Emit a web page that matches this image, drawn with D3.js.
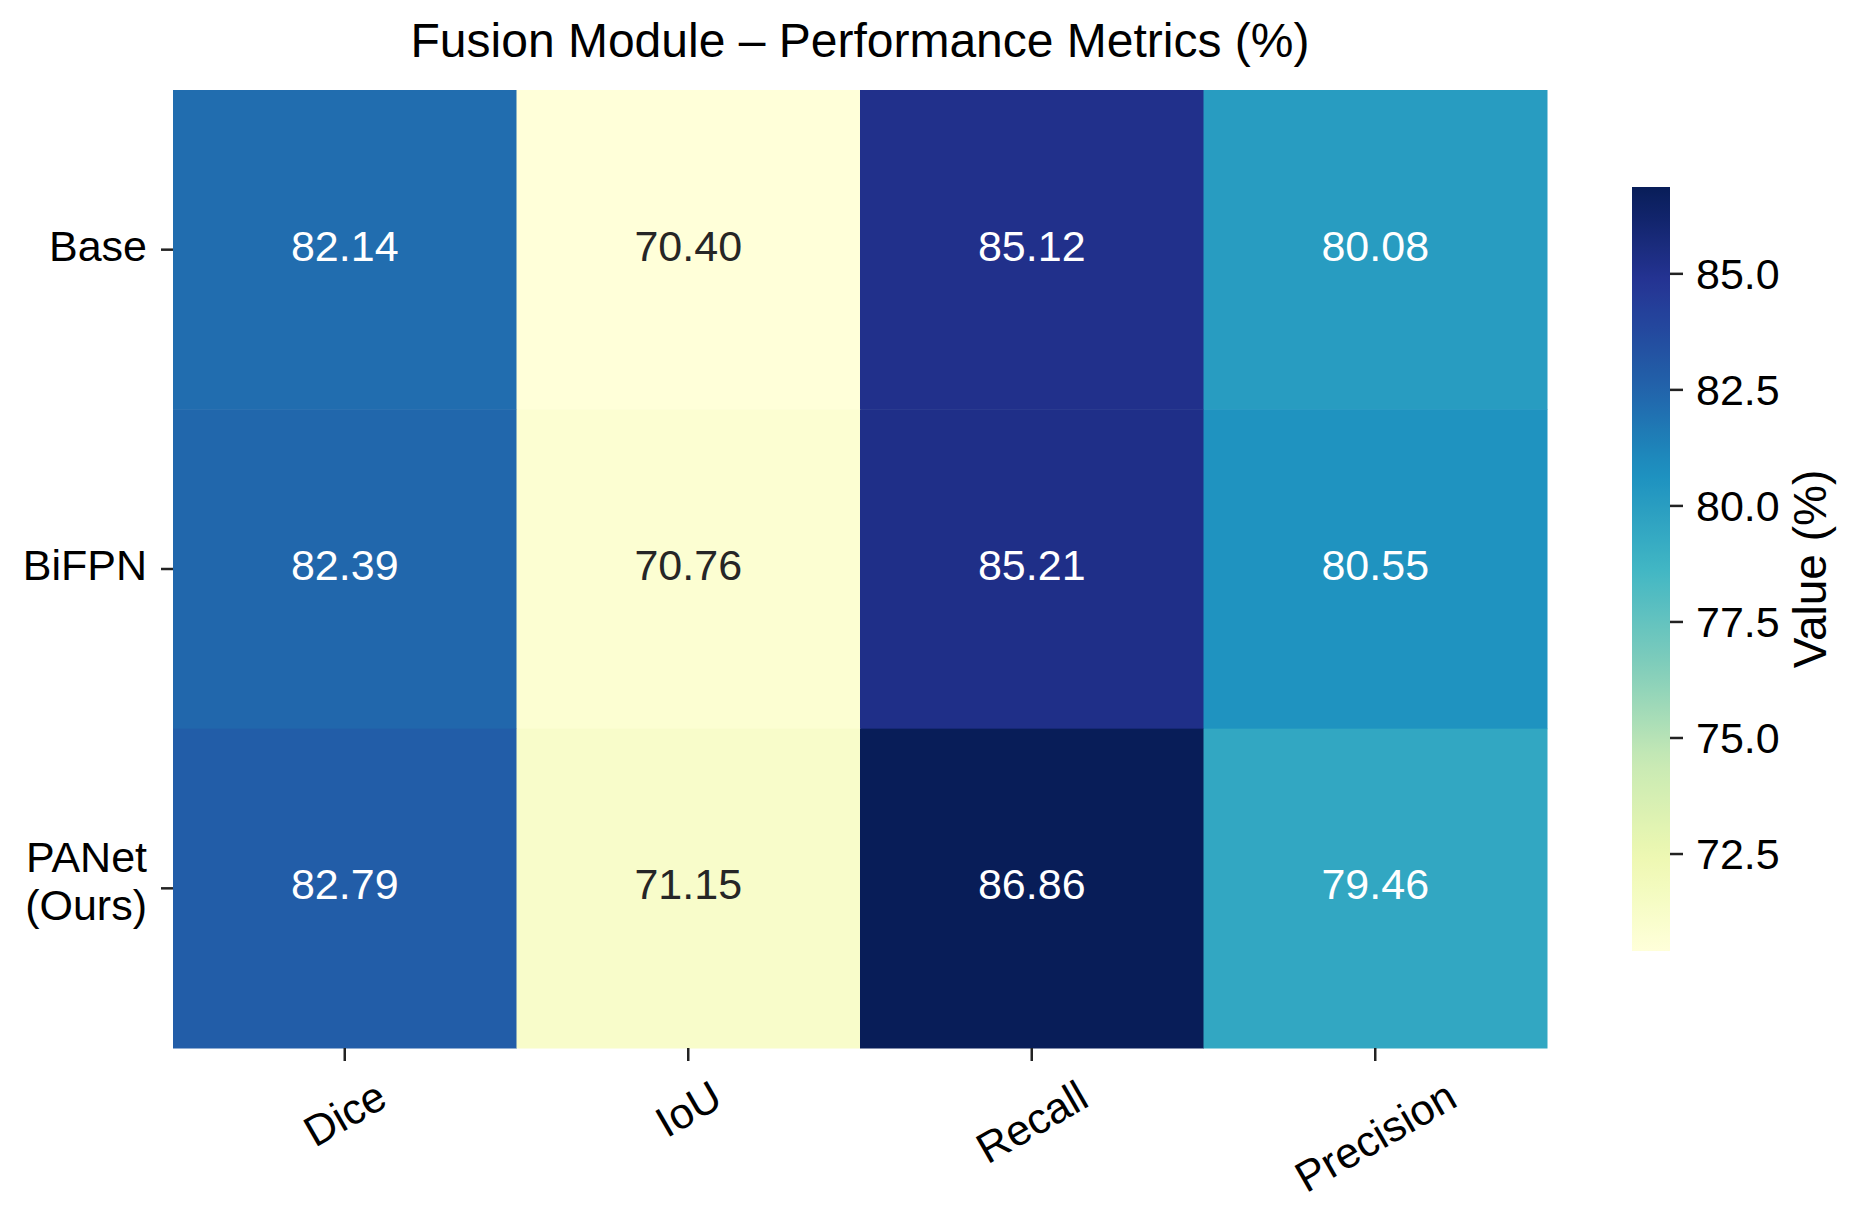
<!DOCTYPE html>
<html>
<head>
<meta charset="utf-8">
<script src="https://cdn.jsdelivr.net/npm/d3@7"></script>
<style>
  html, body { margin: 0; padding: 0; background: #ffffff; }
  svg { display: block; }
  text { font-family: "Liberation Sans", Arial, Helvetica, sans-serif; }
</style>
</head>
<body>
<svg id="chart" width="1864" height="1212"></svg>
<script>
// ---- data ----
const models = ["Base", "BiFPN", "PANet\n(Ours)"];
const metrics = ["Dice", "IoU", "Recall", "Precision"];
const diceValues = [82.14, 82.39, 82.79];
const iouValues = [70.40, 70.76, 71.15];
const recallValues = [85.12, 85.21, 86.86];
const precisionValues = [80.08, 80.55, 79.46];
const colorbarTicks = [72.5, 75.0, 77.5, 80.0, 82.5, 85.0];
const titleText = "Fusion Module \u2013 Performance Metrics (%)";
const colorbarLabel = "Value (%)";
const ylgnbu = ["#ffffd9", "#edf8b1", "#c7e9b4", "#7fcdbb", "#41b6c4", "#1d91c0", "#225ea8", "#253494", "#081d58"];

// ---- build cells ----
const seriesByMetric = [diceValues, iouValues, recallValues, precisionValues];
const cells = [];
models.forEach((m, i) => {
  metrics.forEach((k, j) => {
    cells.push({ model: m, metric: k, value: seriesByMetric[j][i] });
  });
});
const allVals = cells.map(d => d.value);
const vmin = d3.min(allVals), vmax = d3.max(allVals);

// matplotlib-like piecewise linear YlGnBu
const color = d3.scaleLinear()
  .domain(ylgnbu.map((c, i) => vmin + (vmax - vmin) * i / (ylgnbu.length - 1)))
  .range(ylgnbu)
  .interpolate(d3.interpolateRgb)
  .clamp(true);

const svg = d3.select("#chart");
svg.append("rect").attr("width", 1864).attr("height", 1212).attr("fill", "#ffffff");

const FONT = 43;
const plotL = 173, plotR = 1547, plotT = 90, plotB = 1048;

const x = d3.scaleBand().domain(metrics).range([plotL, plotR]).padding(0);
const y = d3.scaleBand().domain(models).range([plotT, plotB]).padding(0);

// title
svg.append("text")
  .attr("x", 860).attr("y", 57)
  .attr("text-anchor", "middle")
  .attr("font-size", 48)
  .attr("fill", "#000")
  .text(titleText);

// cells
svg.append("g").selectAll("rect").data(cells).join("rect")
  .attr("x", d => x(d.metric))
  .attr("y", d => y(d.model))
  .attr("width", x.bandwidth() + 0.5)
  .attr("height", y.bandwidth() + 0.5)
  .attr("fill", d => color(d.value));

function lum(c) {
  const rgb = d3.rgb(c);
  const f = v => { v /= 255; return v <= 0.03928 ? v / 12.92 : Math.pow((v + 0.055) / 1.055, 2.4); };
  return 0.2126 * f(rgb.r) + 0.7152 * f(rgb.g) + 0.0722 * f(rgb.b);
}

svg.append("g").selectAll("text").data(cells).join("text")
  .attr("x", d => x(d.metric) + x.bandwidth() / 2)
  .attr("y", d => y(d.model) + y.bandwidth() / 2 + 11)
  .attr("text-anchor", "middle")
  .attr("font-size", FONT)
  .attr("fill", d => lum(color(d.value)) > 0.408 ? "#262626" : "#ffffff")
  .text(d => d.value.toFixed(2));

// y axis
const yAxis = svg.append("g")
  .attr("transform", `translate(${plotL},0)`)
  .call(d3.axisLeft(y).tickSize(12).tickPadding(14));
yAxis.select(".domain").remove();
yAxis.attr("font-size", FONT).attr("font-family", null);
yAxis.selectAll(".tick line").attr("stroke", "#222").attr("stroke-width", 2.5);
yAxis.selectAll(".tick text")
  .attr("fill", "#000")
  .attr("dy", null)
  .each(function(d) {
    const t = d3.select(this);
    const lines = d.split("\n");
    t.text(null);
    if (lines.length === 1) {
      t.attr("y", 11).text(lines[0]);
    } else {
      t.attr("y", 0);
      lines.forEach((ln, k) => {
        t.append("tspan").attr("x", -26).attr("y", -16 + k * 48).text(ln);
      });
    }
  });

// x axis
const xAxis = svg.append("g")
  .attr("transform", `translate(0,${plotB})`)
  .call(d3.axisBottom(x).tickSize(13).tickPadding(10));
xAxis.select(".domain").remove();
xAxis.attr("font-size", FONT).attr("font-family", null);
xAxis.selectAll(".tick line").attr("stroke", "#222").attr("stroke-width", 2.5);
xAxis.selectAll(".tick text")
  .attr("fill", "#000")
  .attr("y", 0)
  .attr("dy", "0.35em")
  .attr("text-anchor", "middle")
  .each(function() {
    const w = this.getComputedTextLength();
    d3.select(this).attr("transform", `translate(0,${44 + w * 0.25}) rotate(-30)`);
  });

// colorbar
const cbLeft = 1632, cbWidth = 38, cbTop = 187, cbBottom = 951;
const cScale = d3.scaleLinear().domain([vmin, vmax]).range([cbBottom, cbTop]);

const defs = svg.append("defs");
const grad = defs.append("linearGradient")
  .attr("id", "cbgrad")
  .attr("x1", 0).attr("y1", 1).attr("x2", 0).attr("y2", 0);
d3.range(0, 1.0001, 0.02).forEach(t => {
  grad.append("stop")
    .attr("offset", t)
    .attr("stop-color", color(vmin + t * (vmax - vmin)));
});
svg.append("rect")
  .attr("x", cbLeft).attr("y", cbTop)
  .attr("width", cbWidth).attr("height", cbBottom - cbTop)
  .attr("fill", "url(#cbgrad)");

const cAxis = svg.append("g")
  .attr("transform", `translate(${cbLeft + cbWidth},0)`)
  .call(d3.axisRight(cScale).tickValues(colorbarTicks).tickFormat(d3.format(".1f")).tickSize(13).tickPadding(13));
cAxis.select(".domain").remove();
cAxis.attr("font-size", FONT).attr("font-family", null);
cAxis.selectAll(".tick line").attr("stroke", "#222").attr("stroke-width", 2.5);
cAxis.selectAll(".tick text").attr("fill", "#000").attr("dy", null).attr("y", 15);

svg.append("text")
  .attr("transform", `translate(1826,${(cbTop + cbBottom) / 2}) rotate(-90)`)
  .attr("text-anchor", "middle")
  .attr("font-size", 46)
  .attr("fill", "#000")
  .text(colorbarLabel);
</script>
</body>
</html>
